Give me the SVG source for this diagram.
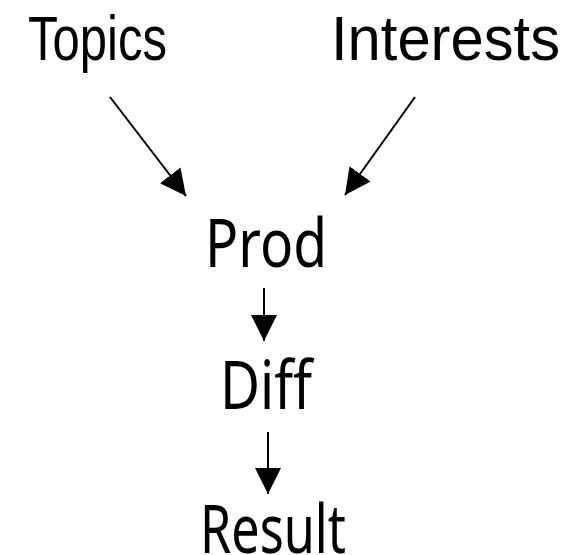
<svg xmlns="http://www.w3.org/2000/svg" width="586" height="555" viewBox="0 0 586 555">
<style>
.top{font-family:"Liberation Sans Narrow","Liberation Sans",Arial,sans-serif;font-size:63px;fill:#000}
.mid{font-family:"Noto Sans","Open Sans","DejaVu Sans",sans-serif;font-size:67px;fill:#000}
.edge{stroke:#000;stroke-width:2;fill:none}
</style>
<defs>
<marker id="ah" viewBox="0 0 10 10" refX="10" refY="5" markerWidth="26" markerHeight="26" markerUnits="userSpaceOnUse" orient="auto">
<path d="M0,0 L10,5 L0,10 z" fill="#000"/>
</marker>
</defs>
<rect width="586" height="555" fill="#fff"/>
<g id="topics"><text class="top" x="28" y="60" textLength="139" lengthAdjust="spacingAndGlyphs">Topics</text></g>
<g id="interests"><text class="top" x="331" y="60" textLength="229" lengthAdjust="spacingAndGlyphs">Interests</text></g>
<g id="prod"><text class="mid" x="205" y="267" textLength="122" lengthAdjust="spacingAndGlyphs">Prod</text></g>
<g id="diff"><text class="mid" x="220" y="409" textLength="92" lengthAdjust="spacingAndGlyphs">Diff</text></g>
<g id="result"><text class="mid" x="200" y="553" textLength="146" lengthAdjust="spacingAndGlyphs">Result</text></g>
<g id="connectors">
<path class="edge" d="M110,97 L186,196" marker-end="url(#ah)"/>
<path class="edge" d="M415,97 L345,195" marker-end="url(#ah)"/>
<path class="edge" d="M264,288 L264,341" marker-end="url(#ah)"/>
<path class="edge" d="M268,432 L268,494" marker-end="url(#ah)"/>
</g>
</svg>
